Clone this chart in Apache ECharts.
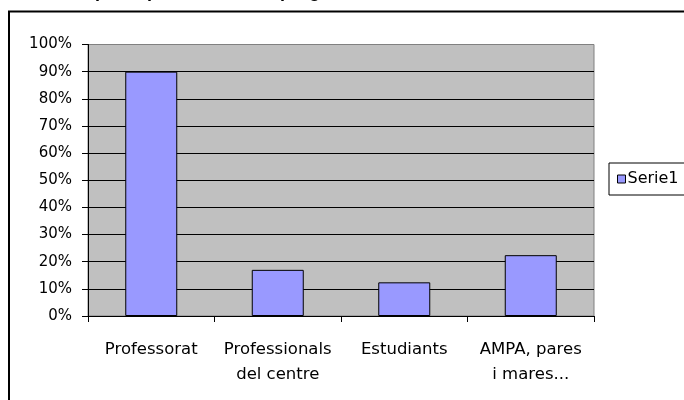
<!DOCTYPE html>
<html>
<head>
<meta charset="utf-8">
<script src="https://cdn.jsdelivr.net/npm/echarts@6/dist/echarts.min.js"></script>
<style>
html,body{margin:0;padding:0;background:#fff;}
#chart{width:684px;height:400px;}
</style>
</head>
<body>
<div id="chart"></div>
<script>
var categories = ['Professorat', 'Professionals\ndel centre', 'Estudiants', 'AMPA, pares\ni mares...'];
var serieName = 'Serie1';
var values = [90, 17, 12.4, 22.4];
var yTicks = [0, 10, 20, 30, 40, 50, 60, 70, 80, 90, 100];
var titleText = 'Participació per sectors del programa';

var FONT = 'DejaVu Sans';
var chart = echarts.init(document.getElementById('chart'), null, {renderer: 'canvas'});
var splitColors = yTicks.map(function (v, i) { return i === yTicks.length - 1 ? '#808080' : '#000000'; });

chart.setOption({
  animation: false,
  backgroundColor: '#ffffff',
  graphic: [
    {type: 'rect', shape: {x: 9, y: 11.5, width: 700, height: 420}, style: {fill: 'none', stroke: '#000', lineWidth: 2}, z: 10},
    {type: 'text', x: 40, y: 1, style: {text: titleText, font: 'bold 18px "Liberation Sans"', fill: '#000', verticalAlign: 'bottom'}, z: 10}
  ],
  legend: {
    show: true,
    left: 609,
    top: 163,
    orient: 'vertical',
    backgroundColor: '#ffffff',
    borderColor: '#000',
    borderWidth: 1,
    padding: [8, 20, 8, 8],
    itemWidth: 8,
    itemHeight: 8,
    itemGap: 0,
    icon: 'rect',
    textStyle: {fontFamily: FONT, fontSize: 16, color: '#000', padding: [0, 0, 0, -3]},
    data: [{name: serieName, itemStyle: {color: '#9999FF', borderColor: '#000', borderWidth: 1}}]
  },
  grid: {
    left: 88, top: 44.5, right: 90, bottom: 84,
    show: true, backgroundColor: '#C0C0C0', borderColor: '#808080', borderWidth: 1
  },
  xAxis: {
    type: 'category',
    data: categories,
    axisLine: {show: true, lineStyle: {color: '#000', width: 1}},
    axisTick: {show: true, length: 6, lineStyle: {color: '#000'}},
    axisLabel: {fontFamily: FONT, fontSize: 16.5, color: '#000', margin: 21, lineHeight: 25, interval: 0},
    splitLine: {show: false}
  },
  yAxis: {
    type: 'value',
    min: 0, max: 100, interval: 10,
    axisLine: {show: true, lineStyle: {color: '#000', width: 1}},
    axisTick: {show: true, length: 6, lineStyle: {color: '#000'}},
    axisLabel: {fontFamily: FONT, fontSize: 15, color: '#000', margin: 16, formatter: '{value}%'},
    splitLine: {show: true, lineStyle: {color: splitColors, width: 1}}
  },
  series: [{
    name: serieName,
    type: 'bar',
    data: values,
    barWidth: 52,
    itemStyle: {color: '#9999FF', borderColor: '#000', borderWidth: 1}
  }]
});
</script>
</body>
</html>
